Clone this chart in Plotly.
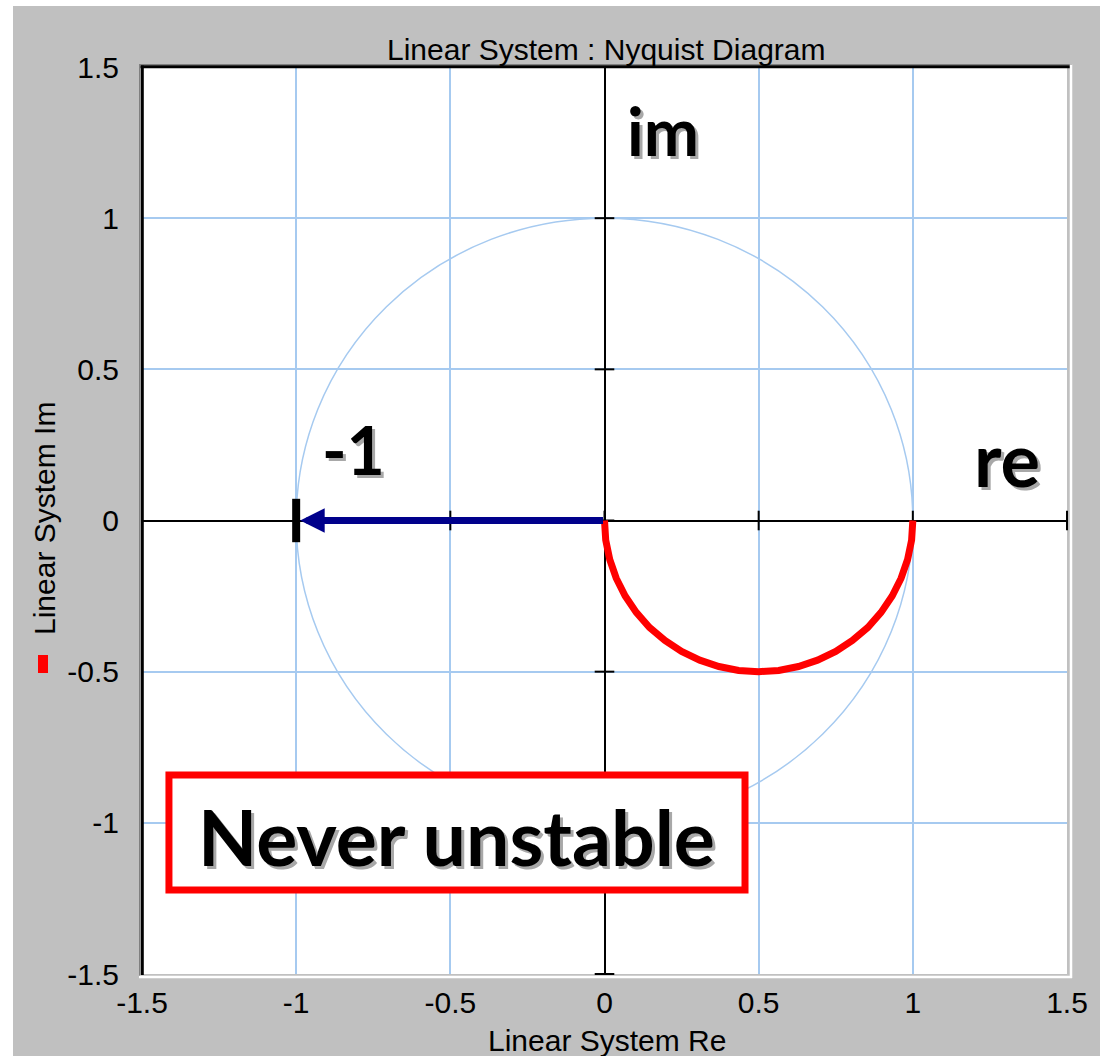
import plotly.graph_objects as go

# ---- data -------------------------------------------------------------
# Nyquist locus of the first-order system (real / imaginary parts)
nyq_re = [0.0, 0.004, 0.017, 0.038, 0.067, 0.103, 0.146, 0.196, 0.25, 0.309,
          0.371, 0.435, 0.5, 0.565, 0.629, 0.691, 0.75, 0.804, 0.854, 0.897,
          0.933, 0.962, 0.983, 0.996, 1.0]
nyq_im = [0.0, -0.065, -0.129, -0.191, -0.25, -0.304, -0.354, -0.397, -0.433,
          -0.462, -0.483, -0.496, -0.5, -0.496, -0.483, -0.462, -0.433, -0.397,
          -0.354, -0.304, -0.25, -0.191, -0.129, -0.065, 0.0]

# axis ticks
tick_vals = [-1.5, -1, -0.5, 0, 0.5, 1, 1.5]
tick_text = ["-1.5", "-1", "-0.5", "0", "0.5", "1", "1.5"]

# critical point
crit_re, crit_im = -1, 0

# ---- styling ----------------------------------------------------------
W, H = 1100, 1056
ML, MR, MT, MB = 142, 33, 67, 82
PW, PH = W - ML - MR, H - MT - MB
BG = "#c0c0c0"
GRID = "#a6caf0"
AX_FONT = "Liberation Sans, Arial, sans-serif"
HAND_FONT = "Lato, sans-serif"
SHADOW = "3px 3px 0px #a8a8a8"


def px(xp):
    """page x pixel -> paper x"""
    return (xp - ML) / PW


def py(yp):
    """page y pixel -> paper y"""
    return (H - MB - yp) / PH


fig = go.Figure()

# tick crosses along the zero axes
fig.add_trace(go.Scatter(
    x=tick_vals, y=[0] * len(tick_vals), mode="markers",
    marker=dict(symbol="line-ns", size=14, line=dict(color="black", width=2)),
    hoverinfo="skip", showlegend=False, cliponaxis=False))
fig.add_trace(go.Scatter(
    x=[0] * len(tick_vals), y=tick_vals, mode="markers",
    marker=dict(symbol="line-ew", size=14, line=dict(color="black", width=2)),
    hoverinfo="skip", showlegend=False, cliponaxis=False))

# Nyquist curve
fig.add_trace(go.Scatter(
    x=nyq_re, y=nyq_im, mode="lines",
    line=dict(color="#ff0000", width=7), name="Linear System",
    hoverinfo="x+y", showlegend=False))

# -1 marker
fig.add_trace(go.Scatter(
    x=[crit_re], y=[crit_im], mode="markers",
    marker=dict(symbol="line-ns", size=31, line=dict(color="black", width=8)),
    hoverinfo="skip", showlegend=False))

shapes = [
    # unit circle
    dict(type="circle", xref="x", yref="y", x0=-1, y0=-1, x1=1, y1=1,
         line=dict(color=GRID, width=1.5), layer="below"),
    # annotation box
    dict(type="rect", xref="x", yref="y", x0=-1.4126, x1=0.4557,
         y0=-1.222, y1=-0.842, fillcolor="white",
         line=dict(color="#ff0000", width=7), layer="above"),
    # sunken frame around plot area
    dict(type="line", xref="paper", yref="paper", x0=px(139), x1=px(1072),
         y0=py(64.5), y1=py(64.5), line=dict(color="#808080", width=1)),
    dict(type="line", xref="paper", yref="paper", x0=px(139.5), x1=px(139.5),
         y0=py(64.5), y1=py(978), line=dict(color="#808080", width=1)),
    dict(type="line", xref="paper", yref="paper", x0=px(140.5), x1=px(1070),
         y0=py(66.8), y1=py(66.8), line=dict(color="black", width=3)),
    dict(type="line", xref="paper", yref="paper", x0=px(142.3), x1=px(142.3),
         y0=py(65.5), y1=py(975), line=dict(color="black", width=3)),
    dict(type="line", xref="paper", yref="paper", x0=px(1071), x1=px(1071),
         y0=py(64.5), y1=py(978), line=dict(color="white", width=2.5)),
    dict(type="line", xref="paper", yref="paper", x0=px(139), x1=px(1072),
         y0=py(977), y1=py(977), line=dict(color="white", width=2.5)),
    # legend swatch
    dict(type="rect", xref="paper", yref="paper", x0=px(38), x1=px(48),
         y0=py(673), y1=py(655), fillcolor="#ff0000", line=dict(width=0)),
    # white page edges
    dict(type="rect", xref="paper", yref="paper", x0=px(0), x1=px(13),
         y0=py(H), y1=py(0), fillcolor="white", line=dict(width=0)),
    dict(type="rect", xref="paper", yref="paper", x0=px(0), x1=px(W),
         y0=py(6), y1=py(0), fillcolor="white", line=dict(width=0)),
]

annotations = [
    # arrow from origin to -1
    dict(x=crit_re, y=crit_im, ax=0, ay=0, xref="x", yref="y",
         axref="x", ayref="y", text="", showarrow=True,
         arrowhead=2, arrowsize=0.7, arrowwidth=7, arrowcolor="#00008b",
         standoff=4),
    # chart and axis titles
    dict(x=px(606), y=py(50), xref="paper", yref="paper",
         text="Linear System : Nyquist Diagram", showarrow=False,
         font=dict(family=AX_FONT, size=30, color="black"),
         xanchor="center", yanchor="middle"),
    dict(x=px(607), y=py(1040), xref="paper", yref="paper",
         text="Linear System Re", showarrow=False,
         font=dict(family=AX_FONT, size=30, color="black"),
         xanchor="center", yanchor="middle"),
    dict(x=px(44), y=py(519), xref="paper", yref="paper",
         text="Linear System Im", showarrow=False, textangle=-90,
         font=dict(family=AX_FONT, size=30, color="black"),
         xanchor="center", yanchor="middle"),
]

# hand-lettered labels with drop shadow
labels = [
    ("im", 0.191, 1.290, 66),
    ("re", 1.304, 0.205, 74),
    ("-1", -0.814, 0.235, 66),
    ("Never unstable", -0.480, -1.042, 77),
]
for txt, lx, ly, size in labels:
    annotations.append(dict(
        x=lx, y=ly, xref="x", yref="y", text=txt, showarrow=False,
        xanchor="center", yanchor="middle",
        font=dict(family=HAND_FONT, size=size, color="black",
                  weight="bold", shadow=SHADOW)))

axis_common = dict(
    range=[-1.5, 1.5], tickmode="array", tickvals=tick_vals,
    ticktext=tick_text, showgrid=True, gridcolor=GRID, gridwidth=1.5,
    zeroline=True, zerolinecolor="black", zerolinewidth=2,
    showline=False, ticks="outside", tickcolor=BG,
    tickfont=dict(family=AX_FONT, size=30, color="black"),
    fixedrange=True,
)

fig.update_layout(
    width=W, height=H,
    margin=dict(l=ML, r=MR, t=MT, b=MB, pad=0),
    paper_bgcolor=BG, plot_bgcolor="white",
    xaxis=dict(**axis_common, ticklen=2),
    yaxis=dict(**axis_common, ticklen=16),
    shapes=shapes, annotations=annotations, showlegend=False,
)

fig.write_html("out.html")
